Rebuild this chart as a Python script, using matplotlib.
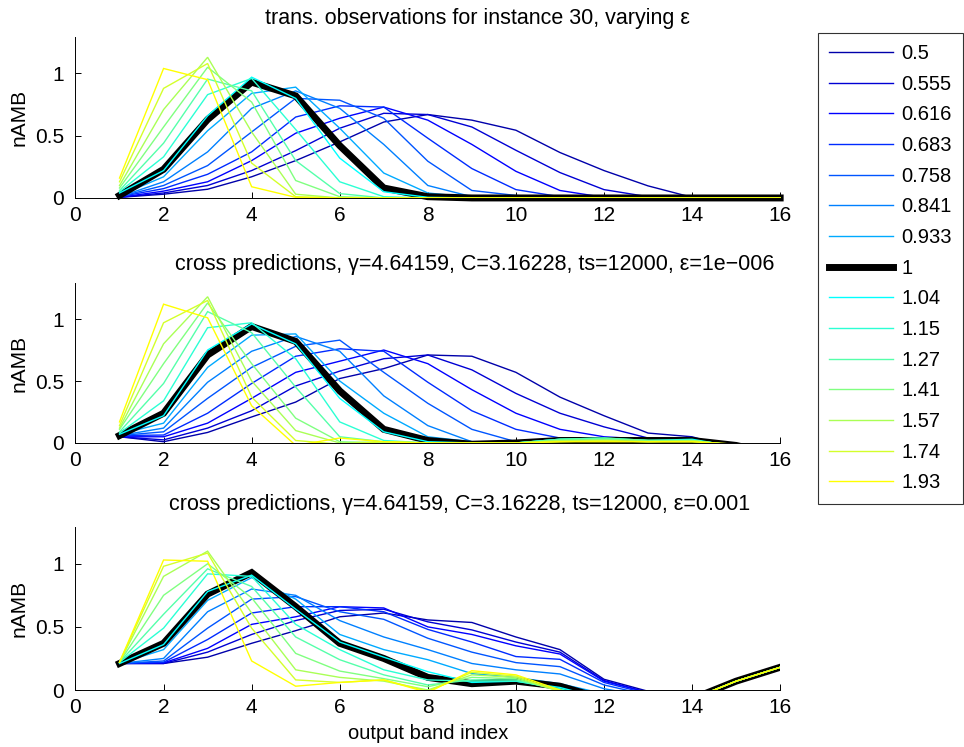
import matplotlib
matplotlib.use("Agg")
import matplotlib.pyplot as plt

plt.rcParams["font.family"] = ["Liberation Sans", "DejaVu Sans"]

# output band index
band = list(range(1, 17))

# epsilon values (legend)
eps_labels = ["0.5", "0.555", "0.616", "0.683", "0.758", "0.841", "0.933", "1",
              "1.04", "1.15", "1.27", "1.41", "1.57", "1.74", "1.93"]

# panel 1: transferred observations, one row per epsilon
obs = [
    [0.005, 0.03, 0.07, 0.17, 0.30, 0.45, 0.61, 0.67, 0.625, 0.544, 0.365, 0.22, 0.097, 0.005, 0, 0],
    [0.005, 0.04, 0.10, 0.22, 0.38, 0.56, 0.68, 0.67, 0.57, 0.383, 0.204, 0.067, 0.01, 0, 0, 0],
    [0.005, 0.055, 0.13, 0.30, 0.52, 0.64, 0.73, 0.625, 0.43, 0.214, 0.06, 0.005, 0, 0, 0, 0],
    [0.01, 0.075, 0.19, 0.37, 0.65, 0.74, 0.73, 0.48, 0.236, 0.067, 0.01, 0, 0, 0, 0, 0],
    [0.01, 0.10, 0.26, 0.53, 0.80, 0.785, 0.64, 0.295, 0.06, 0.02, 0, 0, 0, 0, 0, 0],
    [0.01, 0.13, 0.37, 0.72, 0.86, 0.72, 0.43, 0.10, 0.01, 0, 0, 0, 0, 0, 0, 0],
    [0.02, 0.17, 0.54, 0.84, 0.89, 0.56, 0.20, 0.04, 0.005, 0, 0, 0, 0, 0, 0, 0],
    [0.02, 0.23, 0.63, 0.93, 0.82, 0.42, 0.08, 0.01, 0, 0, 0, 0, 0, 0, 0, 0],
    [0.04, 0.22, 0.66, 0.97, 0.80, 0.32, 0.05, 0.005, 0, 0, 0, 0, 0, 0, 0, 0],
    [0.05, 0.33, 0.83, 0.96, 0.55, 0.13, 0.01, 0, 0, 0, 0, 0, 0, 0, 0, 0],
    [0.06, 0.44, 0.955, 0.86, 0.30, 0.035, 0, 0, 0, 0, 0, 0, 0, 0, 0, 0],
    [0.08, 0.57, 1.05, 0.77, 0.14, 0.01, 0, 0, 0, 0, 0, 0, 0, 0, 0, 0],
    [0.10, 0.71, 1.13, 0.53, 0.03, 0, 0, 0, 0, 0, 0, 0, 0, 0, 0, 0],
    [0.13, 0.88, 1.08, 0.28, 0.01, 0, 0, 0, 0, 0, 0, 0, 0, 0, 0, 0],
    [0.16, 1.04, 0.95, 0.09, 0.005, 0, 0, 0, 0, 0, 0, 0, 0, 0, 0, 0],
]

# panel 2: cross predictions, eps=1e-006
pred1 = [
    [0.05, 0.01, 0.085, 0.21, 0.33, 0.52, 0.60, 0.71, 0.70, 0.57, 0.37, 0.22, 0.08, 0.05, -0.05, -0.10],
    [0.05, 0.025, 0.12, 0.26, 0.46, 0.58, 0.68, 0.71, 0.59, 0.40, 0.24, 0.13, 0.04, 0.03, -0.03, -0.10],
    [0.05, 0.05, 0.16, 0.36, 0.57, 0.66, 0.75, 0.64, 0.43, 0.24, 0.11, 0.05, 0.03, 0.02, -0.02, -0.10],
    [0.06, 0.064, 0.24, 0.48, 0.70, 0.76, 0.74, 0.49, 0.26, 0.11, 0.04, 0.03, 0.02, 0.02, -0.02, -0.10],
    [0.06, 0.09, 0.36, 0.61, 0.78, 0.83, 0.57, 0.32, 0.11, 0.01, 0.03, 0.03, 0.02, 0.02, -0.02, -0.10],
    [0.06, 0.12, 0.49, 0.74, 0.86, 0.74, 0.38, 0.14, 0.01, 0.0, 0.03, 0.04, 0.02, 0.02, -0.02, -0.10],
    [0.07, 0.16, 0.61, 0.87, 0.88, 0.50, 0.24, 0.05, 0.01, 0.0, 0.02, 0.03, 0.02, 0.03, -0.03, -0.10],
    [0.06, 0.24, 0.71, 0.94, 0.82, 0.42, 0.11, 0.02, -0.01, 0.0, 0.02, 0.02, 0.02, 0.02, -0.02, -0.10],
    [0.07, 0.22, 0.75, 0.96, 0.80, 0.36, 0.09, 0.01, 0.0, 0.0, 0.03, 0.03, 0.02, 0.03, -0.03, -0.10],
    [0.08, 0.34, 0.93, 0.97, 0.68, 0.17, 0.02, 0.0, 0.0, 0.0, 0.03, 0.04, 0.02, 0.02, -0.02, -0.10],
    [0.09, 0.48, 1.06, 0.89, 0.45, 0.05, 0.01, 0.0, 0.0, 0.0, 0.03, 0.04, 0.02, 0.02, -0.02, -0.10],
    [0.11, 0.64, 1.13, 0.64, 0.20, 0.01, 0.0, 0.0, 0.0, 0.0, 0.02, 0.03, 0.02, 0.02, -0.02, -0.10],
    [0.12, 0.80, 1.18, 0.50, 0.10, 0.0, 0.01, 0.0, 0.0, 0.0, 0.02, 0.02, 0.01, 0.02, -0.02, -0.10],
    [0.14, 0.97, 1.15, 0.37, 0.02, -0.01, 0.01, 0.0, 0.0, 0.0, 0.01, 0.02, 0.01, 0.01, -0.01, -0.10],
    [0.17, 1.12, 1.01, 0.30, -0.02, 0.04, 0.01, 0.0, 0.0, 0.0, 0.01, 0.01, 0.01, 0.01, -0.01, -0.10],
]

# panel 3: cross predictions, eps=0.001
pred2 = [
    [0.21, 0.21, 0.26, 0.37, 0.47, 0.58, 0.61, 0.555, 0.535, 0.42, 0.32, 0.085, -0.01, -0.07, 0.07, 0.18],
    [0.21, 0.21, 0.30, 0.44, 0.55, 0.63, 0.64, 0.54, 0.476, 0.38, 0.30, 0.075, -0.02, -0.07, 0.07, 0.18],
    [0.21, 0.215, 0.33, 0.52, 0.58, 0.66, 0.65, 0.50, 0.44, 0.35, 0.285, 0.07, -0.02, -0.07, 0.07, 0.18],
    [0.21, 0.22, 0.40, 0.61, 0.66, 0.66, 0.62, 0.48, 0.38, 0.265, 0.243, 0.06, -0.03, -0.07, 0.07, 0.18],
    [0.21, 0.23, 0.49, 0.72, 0.74, 0.62, 0.56, 0.41, 0.30, 0.217, 0.185, 0.04, -0.04, -0.07, 0.07, 0.18],
    [0.21, 0.25, 0.62, 0.80, 0.75, 0.55, 0.42, 0.32, 0.21, 0.16, 0.127, 0.01, -0.05, -0.07, 0.07, 0.18],
    [0.21, 0.32, 0.71, 0.89, 0.72, 0.44, 0.32, 0.24, 0.13, 0.10, 0.05, -0.03, -0.06, -0.07, 0.07, 0.18],
    [0.21, 0.37, 0.76, 0.93, 0.66, 0.37, 0.25, 0.10, 0.05, 0.07, 0.03, -0.07, -0.10, -0.07, 0.07, 0.18],
    [0.21, 0.36, 0.78, 0.91, 0.64, 0.38, 0.26, 0.145, 0.06, 0.07, 0.02, -0.07, -0.10, -0.07, 0.07, 0.18],
    [0.22, 0.49, 0.92, 0.90, 0.52, 0.32, 0.16, 0.08, 0.07, 0.07, 0.01, -0.08, -0.10, -0.07, 0.07, 0.18],
    [0.22, 0.60, 0.96, 0.82, 0.42, 0.24, 0.12, 0.04, 0.08, 0.08, 0.0, -0.08, -0.10, -0.07, 0.07, 0.18],
    [0.22, 0.75, 1.00, 0.73, 0.29, 0.15, 0.09, 0.026, 0.10, 0.09, -0.01, -0.08, -0.10, -0.07, 0.07, 0.18],
    [0.22, 0.90, 1.10, 0.61, 0.16, 0.10, 0.07, 0.0, 0.12, 0.10, -0.01, -0.08, -0.10, -0.07, 0.07, 0.18],
    [0.22, 0.98, 1.085, 0.49, 0.08, 0.06, 0.08, -0.01, 0.14, 0.11, -0.01, -0.08, -0.10, -0.07, 0.07, 0.18],
    [0.22, 1.03, 1.02, 0.23, 0.03, 0.06, 0.08, -0.02, 0.153, 0.12, 0.0, -0.08, -0.10, -0.07, 0.07, 0.18],
]

titles = [
    "trans. observations for instance 30, varying \u03b5",
    "cross predictions, \u03b3=4.64159, C=3.16228, ts=12000, \u03b5=1e\u2212006",
    "cross predictions, \u03b3=4.64159, C=3.16228, ts=12000, \u03b5=0.001",
]

# first 15 rows of MATLAB jet(24); eps=1 drawn thick black
colors = [(0, 0, 0.667), (0, 0, 0.833), (0, 0, 1), (0, 0.167, 1), (0, 0.333, 1),
          (0, 0.5, 1), (0, 0.667, 1), (0, 0, 0), (0, 1, 1), (0.167, 1, 0.833),
          (0.333, 1, 0.667), (0.5, 1, 0.5), (0.667, 1, 0.333), (0.833, 1, 0.167),
          (1, 1, 0)]

fig = plt.figure(figsize=(9.64, 7.47), dpi=100)

# axes rects in figure fractions
rects = [
    [0.0783, 0.735, 0.731, 0.215],
    [0.0783, 0.407, 0.731, 0.214],
    [0.0783, 0.0763, 0.731, 0.218],
]
title_x = [0.57, 0.567, 0.545]
title_y = [1.0, 1.0, 1.025]

panels = [obs, pred1, pred2]
axes = []
for p, data in enumerate(panels):
    ax = fig.add_axes(rects[p])
    for i, row in enumerate(data):
        if eps_labels[i] == "1":
            lw = 5
        else:
            lw = 1.0
        ax.plot(band, row, color=colors[i], lw=lw, label=eps_labels[i],
                clip_on=(p != 0), solid_joinstyle="miter")
    ax.set_xlim(0, 16)
    ax.set_ylim(0, 1.29)
    ax.set_xticks(range(0, 17, 2))
    ax.set_yticks([0, 0.5, 1])
    ax.set_yticklabels(["0", "0.5", "1"])
    ax.spines["top"].set_visible(False)
    ax.spines["right"].set_visible(False)
    for s in ["left", "bottom"]:
        ax.spines[s].set_linewidth(0.7)
    ax.tick_params(direction="in", length=4, width=0.7, labelsize=15)
    ax.tick_params(axis="x", pad=6)
    ax.tick_params(axis="y", pad=8)
    ax.set_ylabel("nAMB", fontsize=15, labelpad=5)
    ax.set_title(titles[p], fontsize=15.5, x=title_x[p], y=title_y[p], pad=9.5)
    axes.append(ax)

axes[2].set_xlabel("output band index", fontsize=14.5, labelpad=5)

handles, labels = axes[0].get_legend_handles_labels()
leg = fig.legend(handles, labels, loc="upper left",
                 bbox_to_anchor=(0.8485, 0.956), borderaxespad=0,
                 fontsize=14.5, frameon=True, fancybox=False, shadow=False,
                 handlelength=3.2, handletextpad=0.4, labelspacing=0.58,
                 borderpad=0.55)
leg.get_frame().set_edgecolor("black")
leg.get_frame().set_linewidth(0.8)

fig.savefig("out.png", dpi=100)
